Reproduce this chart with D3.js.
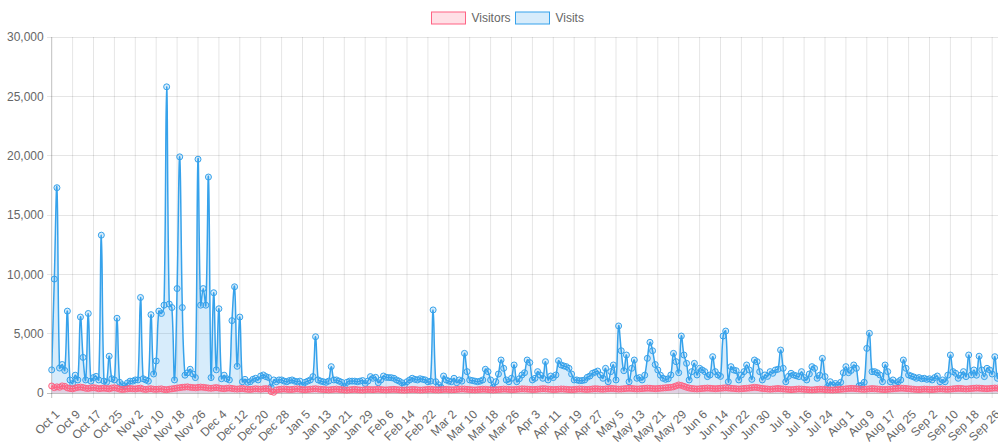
<!DOCTYPE html>
<html>
<head>
<meta charset="utf-8">
<script src="https://cdn.jsdelivr.net/npm/d3@7/dist/d3.min.js"></script>
<style>
  html, body { margin: 0; padding: 0; background: #fff; overflow: hidden; }
  svg { display: block; font-family: "Liberation Sans", Arial, sans-serif; }
</style>
</head>
<body>
<svg id="chart" width="998" height="448"></svg>
<script>
// daily values, Oct 1 .. Sep 30
const visitsOct = [1950, 9600, 17300, 2100, 2400, 1900, 6900, 1100, 800, 1500, 1100, 6400, 3000, 1100, 6700, 1000, 1300, 1400, 1100, 13300, 1000, 900, 3100, 1200, 1100, 6300, 900, 700, 600, 850, 1000];
const visitsNov = [1000, 1100, 1100, 8050, 1200, 1100, 1000, 6600, 1600, 2700, 6900, 6700, 7400, 25800, 7500, 7200, 1100, 8800, 19900, 7200, 1500, 1700, 2000, 1600, 1300, 19700, 7400, 8800, 7400, 18200];
const visitsDec = [1300, 8450, 1950, 7100, 1200, 1500, 1200, 1100, 6100, 8950, 2250, 6400, 950, 1150, 900, 950, 1150, 1240, 1100, 1430, 1520, 1380, 1300, 500, 1100, 950, 1100, 1100, 1000, 950, 1050];
const visitsJan = [1100, 1000, 950, 1000, 670, 900, 1000, 1100, 1380, 4740, 1100, 1000, 950, 900, 1000, 2220, 1100, 1100, 1000, 900, 550, 900, 1000, 1000, 1000, 950, 1000, 1050, 800, 1000, 1380];
const visitsFeb = [1240, 1320, 870, 1100, 1430, 1320, 1300, 1290, 1240, 1100, 1000, 870, 670, 950, 1100, 1240, 1150, 1100, 1200, 1150, 1100, 950, 1000, 7000, 950, 700, 480, 1430];
const visitsMar = [1100, 1000, 950, 1240, 870, 1100, 1000, 3340, 1800, 1100, 1050, 1000, 950, 1000, 1100, 2000, 1800, 1100, 480, 950, 1600, 2780, 2080, 1100, 950, 1240, 2360, 950, 1200, 1520, 1710];
const visitsApr = [2780, 2560, 1100, 1240, 1800, 1520, 1240, 2640, 1100, 1430, 1300, 1520, 2720, 2360, 2280, 2220, 2080, 1600, 1100, 1100, 1040, 1050, 1100, 1320, 1430, 1660, 1750, 1850, 1520, 1240];
const visitsMay = [2080, 950, 1800, 2360, 1100, 5650, 3560, 1880, 3200, 950, 2080, 2780, 1240, 1300, 1100, 1500, 2920, 4270, 3560, 2400, 1940, 1500, 1240, 1150, 1200, 1520, 3340, 2640, 1710, 4800, 3200];
const visitsJun = [2500, 1100, 1800, 2500, 1520, 2080, 1940, 1800, 1380, 1520, 3060, 1800, 1520, 1400, 4800, 5220, 950, 2220, 1940, 1880, 1100, 1520, 1800, 2360, 1940, 1150, 2780, 2640, 1800, 1100];
const visitsJul = [1520, 1400, 1800, 1660, 1940, 2000, 3620, 2080, 950, 1400, 1660, 1520, 1450, 1380, 1800, 1300, 1100, 1600, 2220, 2080, 1240, 1500, 2920, 1380, 530, 950, 670, 800, 670, 900, 1710];
const visitsAug = [2220, 1710, 1900, 2360, 2080, 590, 670, 900, 3760, 5030, 1800, 1800, 1700, 1520, 950, 2360, 1800, 950, 1100, 800, 950, 1100, 2780, 2080, 1520, 1430, 1350, 1240, 1300, 1200, 1240];
const visitsSep = [1150, 1200, 1100, 1300, 1430, 950, 1100, 950, 1500, 3200, 1800, 1660, 1240, 1500, 1800, 1380, 3200, 1520, 1940, 1500, 3100, 1940, 1380, 2080, 1940, 1600, 3060, 1240, 1500, 2200];

const visitorsOct = [590, 450, 520, 480, 600, 560, 430, 380, 350, 420, 470, 500, 460, 400, 380, 430, 450, 420, 360, 390, 410, 380, 350, 420, 440, 400, 330, 300, 320, 350, 380];
const visitorsNov = [360, 340, 380, 410, 330, 300, 340, 360, 320, 310, 330, 350, 300, 280, 320, 350, 380, 420, 450, 480, 500, 520, 480, 460, 440, 470, 500, 480, 450, 420];
const visitorsDec = [400, 430, 460, 420, 380, 360, 400, 420, 380, 350, 330, 360, 380, 340, 310, 300, 330, 360, 340, 320, 350, 370, 340, 120, 60, 250, 300, 320, 340, 310, 290];
const visitorsJan = [300, 330, 350, 320, 290, 270, 300, 320, 340, 360, 330, 310, 300, 280, 260, 290, 310, 330, 300, 280, 260, 240, 270, 290, 310, 280, 260, 250, 280, 300, 290];
const visitorsFeb = [280, 300, 320, 290, 270, 260, 280, 300, 310, 290, 270, 250, 240, 260, 280, 300, 290, 270, 250, 260, 280, 300, 320, 290, 270, 260, 280, 300];
const visitorsMar = [310, 290, 270, 280, 300, 320, 340, 330, 310, 290, 270, 260, 280, 300, 320, 310, 290, 270, 250, 270, 290, 310, 330, 320, 300, 280, 290, 310, 330, 350, 340];
const visitorsApr = [330, 310, 290, 300, 320, 340, 360, 350, 330, 310, 290, 300, 320, 340, 330, 310, 290, 280, 300, 320, 340, 330, 310, 300, 320, 340, 360, 350, 330, 320];
const visitorsMay = [340, 360, 380, 370, 350, 330, 340, 360, 380, 400, 380, 360, 340, 350, 370, 390, 410, 400, 380, 360, 380, 400, 420, 440, 460, 480, 520, 600, 680, 640, 560];
const visitorsJun = [480, 420, 380, 360, 340, 360, 380, 400, 420, 400, 380, 360, 380, 400, 420, 440, 420, 400, 380, 360, 340, 360, 380, 400, 420, 450, 480, 460, 420, 380];
const visitorsJul = [360, 340, 320, 340, 360, 380, 360, 340, 320, 300, 280, 300, 320, 340, 330, 310, 290, 270, 260, 280, 300, 320, 310, 290, 270, 260, 250, 270, 290, 310, 330];
const visitorsAug = [350, 370, 390, 380, 360, 340, 320, 310, 330, 350, 370, 360, 340, 320, 300, 290, 310, 330, 350, 370, 390, 410, 400, 380, 360, 340, 320, 300, 290, 310, 330];
const visitorsSep = [320, 300, 290, 310, 330, 350, 340, 320, 310, 330, 350, 370, 390, 380, 360, 340, 360, 380, 400, 420, 410, 390, 370, 360, 380, 400, 420, 410, 390, 380];

const tickLabels = ["Oct 1", "Oct 9", "Oct 17", "Oct 25", "Nov 2", "Nov 10", "Nov 18", "Nov 26", "Dec 4", "Dec 12", "Dec 20", "Dec 28",
  "Jan 5", "Jan 13", "Jan 21", "Jan 29", "Feb 6", "Feb 14", "Feb 22", "Mar 2", "Mar 10", "Mar 18", "Mar 26", "Apr 3", "Apr 11",
  "Apr 19", "Apr 27", "May 5", "May 13", "May 21", "May 29", "Jun 6", "Jun 14", "Jun 22", "Jun 30", "Jul 8", "Jul 16", "Jul 24",
  "Aug 1", "Aug 9", "Aug 17", "Aug 25", "Sep 2", "Sep 10", "Sep 18", "Sep 26"];
const labelStep = 8; // one label every 8 days
const yTicks = [0, 5000, 10000, 15000, 20000, 25000, 30000];

const visits = [].concat(visitsOct, visitsNov, visitsDec, visitsJan, visitsFeb, visitsMar,
  visitsApr, visitsMay, visitsJun, visitsJul, visitsAug, visitsSep);
const visitors = [].concat(visitorsOct, visitorsNov, visitorsDec, visitorsJan, visitorsFeb, visitorsMar,
  visitorsApr, visitorsMay, visitorsJun, visitorsJul, visitorsAug, visitorsSep);

const series = [
  { name: "Visitors", values: visitors, stroke: "rgb(255,99,132)", fill: "rgba(255,99,132,0.2)" },
  { name: "Visits", values: visits, stroke: "rgb(54,162,235)", fill: "rgba(54,162,235,0.2)" }
];

const W = 998, H = 448;
const plotLeft = 51.7, plotTop = 37, plotBottom = 393;
const plotRight = plotLeft + 364 * 2.6125;

const svg = d3.select("#chart");

const x = d3.scaleLinear().domain([0, visits.length - 1]).range([plotLeft, plotRight]);
const y = d3.scaleLinear().domain([0, 30000]).range([plotBottom, plotTop]);

// grid
const grid = svg.append("g");
grid.selectAll("line.h").data(yTicks).join("line")
  .attr("x1", plotLeft - 5).attr("x2", W)
  .attr("y1", d => y(d)).attr("y2", d => y(d))
  .attr("stroke", d => d === 0 ? "rgba(0,0,0,0.25)" : "rgba(0,0,0,0.1)")
  .attr("shape-rendering", "crispEdges");
grid.selectAll("line.v").data(tickLabels.map((_, i) => i * labelStep)).join("line")
  .attr("x1", d => x(d)).attr("x2", d => x(d))
  .attr("y1", plotTop).attr("y2", plotBottom + 5)
  .attr("stroke", (d, i) => i === 0 ? "rgba(0,0,0,0.25)" : "rgba(0,0,0,0.1)");

// axes (labels only)
const yAxis = svg.append("g").attr("transform", `translate(${plotLeft - 5},0)`)
  .call(d3.axisLeft(y).tickValues(yTicks).tickFormat(d3.format(",")).tickSize(0).tickPadding(3));
yAxis.select(".domain").remove();
yAxis.selectAll("text").attr("fill", "#666").style("font-size", "12px");

const xAxis = svg.append("g").attr("transform", `translate(0,${plotBottom})`)
  .call(d3.axisBottom(x).tickValues(tickLabels.map((_, i) => i * labelStep))
    .tickFormat((d, i) => tickLabels[i]).tickSize(0));
xAxis.select(".domain").remove();
xAxis.selectAll("text")
  .attr("fill", "#666").style("font-size", "12px")
  .attr("y", 0).attr("dy", "0.35em").attr("x", 0)
  .attr("text-anchor", "end")
  .attr("transform", "translate(5,19) rotate(-45)");

// Chart.js style spline (tension 0.4)
function controlPoints(pts, t) {
  return pts.map((p, i) => {
    const prev = pts[Math.max(i - 1, 0)], next = pts[Math.min(i + 1, pts.length - 1)];
    const d01 = Math.hypot(p[0] - prev[0], p[1] - prev[1]);
    const d12 = Math.hypot(next[0] - p[0], next[1] - p[1]);
    let s01 = d01 / (d01 + d12), s12 = d12 / (d01 + d12);
    if (!isFinite(s01)) s01 = 0;
    if (!isFinite(s12)) s12 = 0;
    const fa = t * s01, fb = t * s12;
    const cap = v => Math.max(plotTop, Math.min(plotBottom, v));
    return {
      px: p[0] - fa * (next[0] - prev[0]), py: cap(p[1] - fa * (next[1] - prev[1])),
      nx: p[0] + fb * (next[0] - prev[0]), ny: cap(p[1] + fb * (next[1] - prev[1]))
    };
  });
}
function splinePath(pts, closeToZero) {
  const cp = controlPoints(pts, 0.4);
  const p = d3.path();
  p.moveTo(pts[0][0], pts[0][1]);
  for (let i = 1; i < pts.length; i++) {
    p.bezierCurveTo(cp[i - 1].nx, cp[i - 1].ny, cp[i].px, cp[i].py, pts[i][0], pts[i][1]);
  }
  if (closeToZero) {
    p.lineTo(pts[pts.length - 1][0], y(0));
    p.lineTo(pts[0][0], y(0));
    p.closePath();
  }
  return p.toString();
}

svg.append("clipPath").attr("id", "area-clip").append("rect")
  .attr("x", plotLeft).attr("y", plotTop - 2).attr("width", plotRight - plotLeft).attr("height", plotBottom - plotTop + 4);

const pts = series.map(s => s.values.map((v, i) => [x(i), y(v)]));

// fills first (last dataset at the back)
const fills = svg.append("g").attr("clip-path", "url(#area-clip)");
[1, 0].forEach(k => {
  fills.append("path").attr("d", splinePath(pts[k], true)).attr("fill", series[k].fill);
});

[1, 0].forEach(k => {
  const g = svg.append("g");
  g.append("path").attr("d", splinePath(pts[k], false))
    .attr("fill", "none").attr("stroke", series[k].stroke).attr("stroke-width", 1.5)
    .attr("clip-path", "url(#area-clip)");
  g.selectAll("circle").data(series[k].values).join("circle")
    .attr("cx", (d, i) => x(i)).attr("cy", d => y(d)).attr("r", 3)
    .attr("fill", series[k].fill).attr("stroke", series[k].stroke).attr("stroke-width", 1);
});

// legend
const legend = svg.append("g").style("font-size", "12px");
const legendItems = [
  { name: "Visitors", bx: 431.5, tx: 471.5 },
  { name: "Visits", bx: 515.5, tx: 555.5 }
];
legendItems.forEach((it, i) => {
  legend.append("rect").attr("x", it.bx).attr("y", 12).attr("width", 34).attr("height", 12)
    .attr("fill", series[i].fill).attr("stroke", series[i].stroke).attr("stroke-width", 1);
  legend.append("text").attr("x", it.tx).attr("y", 18).attr("dy", "0.35em")
    .attr("fill", "#666").text(it.name);
});
</script>
</body>
</html>
